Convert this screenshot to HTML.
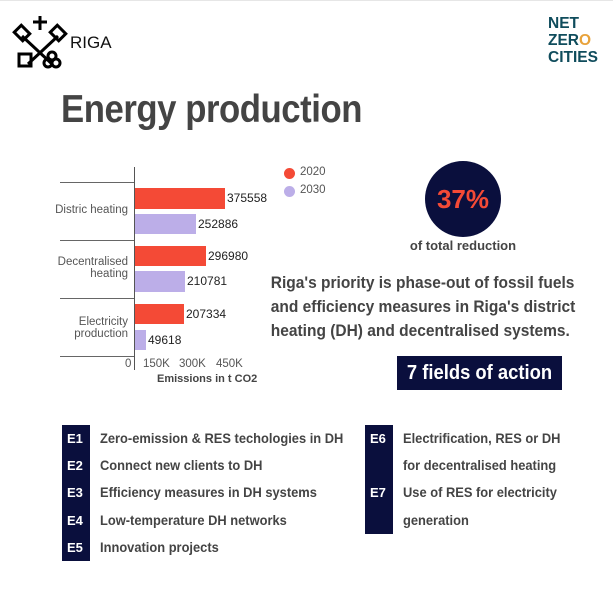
<!DOCTYPE html>
<html><head><meta charset="utf-8"><style>
body{margin:0;width:613px;height:616px;background:#fff;position:relative;overflow:hidden;font-family:"Liberation Sans",sans-serif}
.a{position:absolute;white-space:nowrap}
.b{font-weight:bold}
</style></head><body>
<div class="a" style="left:0;top:0;width:613px;height:1px;background:#e6e6e6"></div>
<svg class="a" style="left:12px;top:14px" width="56" height="56" viewBox="0 0 56 56">
<g stroke="#000" stroke-width="3" fill="none">
<path d="M28 2v14M21 8h14"/>
<path d="M10 22 L40 50"/><path d="M46 22 L16 50"/>
<rect x="4" y="14" width="12" height="10" transform="rotate(45 10 19)"/>
<rect x="40" y="14" width="12" height="10" transform="rotate(45 46 19)"/>
<rect x="7" y="40" width="12" height="12"/>
<circle cx="40" cy="42" r="4"/><circle cx="36" cy="49" r="4"/><circle cx="44" cy="49" r="4"/>
</g></svg>
<div class="a" style="left:70px;top:33px;font-size:17px;color:#111">RIGA</div>
<div class="a b" style="left:548px;top:15px;font-size:15.5px;line-height:17px;color:#0f4c5c">NET<br>ZER<span style="color:#e8a23a">O</span><br>CITIES</div>
<div class="a b" style="left:61px;top:88px;font-size:39px;color:#444;letter-spacing:-0.5px;transform:scaleX(0.89);transform-origin:left">Energy production</div>

<!-- chart -->
<div class="a" style="left:134px;top:167px;width:1px;height:203px;background:#555"></div>
<div class="a" style="left:60px;top:182px;width:74px;height:1px;background:#666"></div>
<div class="a" style="left:60px;top:240px;width:74px;height:1px;background:#666"></div>
<div class="a" style="left:60px;top:298px;width:74px;height:1px;background:#666"></div>
<div class="a" style="left:60px;top:356px;width:74px;height:1px;background:#666"></div>
<div class="a" style="left:135px;top:188px;width:90px;height:21px;background:#f44a36"></div>
<div class="a" style="left:135px;top:214px;width:61px;height:20px;background:#bcaee8"></div>
<div class="a" style="left:135px;top:246px;width:71px;height:20px;background:#f44a36"></div>
<div class="a" style="left:135px;top:271px;width:50px;height:21px;background:#bcaee8"></div>
<div class="a" style="left:135px;top:304px;width:49px;height:20px;background:#f44a36"></div>
<div class="a" style="left:135px;top:330px;width:11px;height:20px;background:#bcaee8"></div>
<div class="a" style="left:227px;top:191px;font-size:12px;color:#222">375558</div>
<div class="a" style="left:198px;top:217px;font-size:12px;color:#222">252886</div>
<div class="a" style="left:208px;top:249px;font-size:12px;color:#222">296980</div>
<div class="a" style="left:187px;top:274px;font-size:12px;color:#222">210781</div>
<div class="a" style="left:186px;top:307px;font-size:12px;color:#222">207334</div>
<div class="a" style="left:148px;top:333px;font-size:12px;color:#222">49618</div>
<div class="a" style="left:0;width:128px;top:204px;font-size:11.5px;color:#555;text-align:right">Distric heating</div>
<div class="a" style="left:0;width:128px;top:256px;font-size:11.5px;line-height:12px;color:#555;text-align:right">Decentralised<br>heating</div>
<div class="a" style="left:0;width:128px;top:316px;font-size:11.5px;line-height:12px;color:#555;text-align:right">Electricity<br>production</div>
<div class="a" style="left:125px;top:358px;font-size:11.5px;color:#555">0</div>
<div class="a" style="left:143px;top:358px;font-size:11.5px;color:#555">150K</div>
<div class="a" style="left:179px;top:358px;font-size:11.5px;color:#555">300K</div>
<div class="a" style="left:216px;top:358px;font-size:11.5px;color:#555">450K</div>
<div class="a b" style="left:157px;top:373px;font-size:11px;color:#444">Emissions in t CO2</div>
<div class="a" style="left:284px;top:168px;width:11px;height:11px;border-radius:50%;background:#f44a36"></div>
<div class="a" style="left:284px;top:186px;width:11px;height:11px;border-radius:50%;background:#bcaee8"></div>
<div class="a" style="left:300px;top:166px;font-size:11.5px;color:#555">2020</div>
<div class="a" style="left:300px;top:184px;font-size:11.5px;color:#555">2030</div>

<div class="a" style="left:425px;top:161px;width:76px;height:76px;border-radius:50%;background:#0a0f3d"></div>
<div class="a b" style="left:425px;width:76px;top:184px;font-size:26px;color:#f44a36;text-align:center">37%</div>
<div class="a b" style="left:383px;width:160px;top:238px;font-size:13px;color:#444;text-align:center">of total reduction</div>
<div class="a b" style="left:252px;width:313px;top:271px;font-size:16.5px;line-height:24px;color:#444;text-align:right;transform:scaleX(0.94);transform-origin:right">Riga's priority is phase-out of fossil fuels<br>and efficiency measures in Riga's district<br>heating (DH) and decentralised systems.</div>
<div class="a" style="left:397px;top:356px;width:165px;height:34px;background:#0a0f3d"></div>
<div class="a b" style="left:397px;top:356px;width:165px;color:#fff;font-size:20px;line-height:34px;text-align:center;transform:scaleX(0.92)">7 fields of action</div>

<div class="a" style="left:62px;top:425px;width:28px;height:136px;background:#0a0f3d"></div>
<div class="a" style="left:365px;top:425px;width:28px;height:109px;background:#0a0f3d"></div>
<div class="a b" style="left:67px;top:425px;font-size:13px;line-height:27.2px;color:#fff">E1<br>E2<br>E3<br>E4<br>E5</div>
<div class="a b" style="left:370px;top:425px;font-size:13px;line-height:27.2px;color:#fff">E6<br><br>E7</div>
<div class="a b" style="left:100px;top:425px;font-size:14px;line-height:27.2px;color:#444;transform:scaleX(0.92);transform-origin:left">Zero-emission &amp; RES techologies in DH<br>Connect new clients to DH<br>Efficiency measures in DH systems<br>Low-temperature DH networks<br>Innovation projects</div>
<div class="a b" style="left:403px;top:425px;font-size:14px;line-height:27.2px;color:#444;transform:scaleX(0.92);transform-origin:left">Electrification, RES or DH<br>for decentralised heating<br>Use of RES for electricity<br>generation</div>
</body></html>
